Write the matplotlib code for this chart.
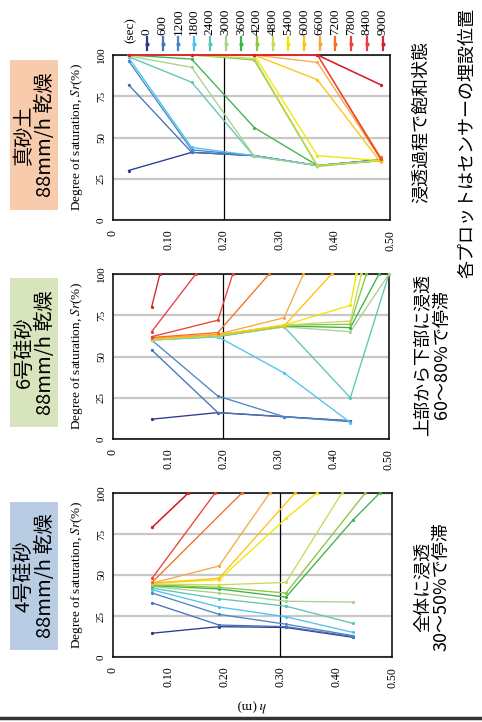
import matplotlib
matplotlib.use('Agg')
import matplotlib.pyplot as plt
from matplotlib.lines import Line2D
from matplotlib.patches import Rectangle

plt.rcParams['font.family'] = ['Liberation Serif', 'Noto Sans CJK JP']
plt.rcParams['mathtext.fontset'] = 'stix'

W, H = 482, 722
JP = ['Noto Sans CJK JP', 'DejaVu Sans']

times = [0, 600, 1200, 1800, 2400, 3000, 3600, 4200, 4800,
         5400, 6000, 6600, 7200, 7800, 8400, 9000]
colors = ['#2b3990', '#4a72b8', '#4c86c6', '#4fc3f0', '#5cc6b4', '#a9d18e',
          '#3bb34a', '#8cc63f', '#c7db5a', '#f2e600', '#ffc20e', '#f9a646',
          '#f37021', '#ef4136', '#ec3a4a', '#d2232a']

# 真砂土: センサー深さ h(m) と各時刻の飽和度 Sr(%)
masa_h = [0.028, 0.142, 0.255, 0.369, 0.483]
masa_sr = [
    [30, 41, 39, 33, 36.5],
    [82, 41, 39, 33, 36.5],
    [96.5, 42.5, 39, 33, 36.5],
    [98.5, 44, 39, 33, 36],
    [99, 83.5, 38.5, 33, 36],
    [99.5, 92.5, 38.5, 33, 36],
    [100, 97.5, 56, 33, 36],
    [100, 100, 97, 32.5, 36],
    [100, 100, 98, 33, 36],
    [100, 100, 100, 39, 36],
    [100, 100, 100, 85, 35],
    [100, 100, 100, 95.5, 37],
    [100, 100, 100, 100, 38],
    [100, 100, 100, 100, 37],
    [100, 100, 100, 100, 82],
    [100, 100, 100, 100, 82],
]
masa_front = [None] * 16

# 6号硅砂 (None: 飽和前線より下、前線で Sr=100)
s6_h = [0.07, 0.19, 0.31, 0.43]
s6_sr = [
    [12, 16, 13.5, 11],
    [54, 16, 13.5, 11],
    [60, 26, 13.5, 10.5],
    [60, 62, 40, 10],
    [60, 62, 68, 25],
    [60, 62.5, 68, 65],
    [60.5, 63, 68.5, 67.5],
    [60.5, 63, 69, 69.5],
    [60.5, 63, 69, 71.5],
    [60.5, 63, 69, 81],
    [61, 63, 68.5, None],
    [61, 63.5, 73.5, None],
    [61.5, 64.5, None, None],
    [62, 72, None, None],
    [65, None, None, None],
    [80, None, None, None],
]
s6_front = [None, None, None, None, 0.5, 0.5, 0.482, 0.459, 0.45, 0.441,
            0.396, 0.345, 0.283, 0.217, 0.15, 0.085]

# 4号硅砂
s4_h = [0.07, 0.19, 0.31, 0.43]
s4_sr = [
    [14.5, 18.5, 18, 12],
    [33, 19.5, 18.5, 12.5],
    [39, 26, 20, 13],
    [41, 30.5, 24.5, 15],
    [42, 35.5, 31, 20.5],
    [43, 39, 34, 33.5],
    [43.5, 41.5, 36.5, 83.5],
    [44, 42.5, 39, None],
    [44.5, 44, 45.5, None],
    [45, 47, 84.5, None],
    [45, 48, None, None],
    [45, 55.5, None, None],
    [45.5, None, None, None],
    [48, None, None, None],
    [79, None, None, None],
    [79, None, None, None],
]
s4_front = [None, None, None, None, None, None, 0.478, 0.452, 0.41, 0.365,
            0.326, 0.281, 0.231, 0.183, 0.135, 0.135]

fig = plt.figure(figsize=(W / 100, H / 100), dpi=100)


def fx(x):
    return x / W


def fy(y):
    return 1 - y / H


def draw_panel(box, depths, sr, front, vline, title, face, box_y):
    x0, y0, x1, y1 = box
    ax = fig.add_axes([fx(x0), fy(y1), (x1 - x0) / W, (y1 - y0) / H])
    for i in range(len(times)):
        hs = [d for d, v in zip(depths, sr[i]) if v is not None]
        vs = [v for v in sr[i] if v is not None]
        if front[i] is not None:
            hs.append(front[i])
            vs.append(100)
        ax.plot(hs, vs, '-o', color=colors[i], lw=0.95, ms=2.3, mew=0,
                clip_on=False, zorder=3)
    ax.axvline(vline, color='black', lw=0.9, zorder=2)
    ax.set_xlim(0, 0.5)
    ax.set_ylim(0, 100)
    ax.set_xticks([0, 0.1, 0.2, 0.3, 0.4, 0.5],
                  ['0', '0.10', '0.20', '0.30', '0.40', '0.50'],
                  rotation=90, fontsize=8.5)
    ax.set_yticks([0, 25, 50, 75, 100], ['0', '25', '50', '75', '100'],
                  rotation=90, va='center', fontsize=8)
    ax.tick_params(length=0)
    ax.tick_params(axis='x', pad=7)
    ax.tick_params(axis='y', pad=5)
    ax.grid(axis='y', color='#c8c8c8', lw=1.6, zorder=1)
    ax.set_axisbelow(True)
    for s in ax.spines.values():
        s.set_linewidth(1.1)
        s.set_color('black')
    ax.set_ylabel(r'Degree of saturation, $\mathit{Sr}$(%)', fontsize=9.5)
    ax.yaxis.set_label_coords(-0.10, 0.5)

    # 試料名のラベル
    by0, by1 = box_y
    fig.add_artist(Rectangle((fx(10), fy(by1)), 48 / W, (by1 - by0) / H,
                             transform=fig.transFigure, facecolor=face,
                             edgecolor='none'))
    fig.text(fx(35), fy((by0 + by1) / 2), title, rotation=90, ha='center',
             va='center', fontsize=14.5, family=JP, linespacing=1.05)
    return ax


draw_panel((113, 55, 390, 220), masa_h, masa_sr, masa_front, 0.20,
           '真砂土\n88mm/h 乾燥', '#f8cbad', (60, 210))
draw_panel((113, 274, 389, 439), s6_h, s6_sr, s6_front, 0.20,
           '6号硅砂\n88mm/h 乾燥', '#d8e4bc', (278, 427))
ax = draw_panel((113, 493, 392, 657), s4_h, s4_sr, s4_front, 0.30,
                '4号硅砂\n88mm/h 乾燥', '#b8cce4', (502, 650))

fig.text(fx(252), fy(705), '$\\mathit{h}$ (m)', rotation=180, ha='center',
         va='center', fontsize=9.5)

# 凡例 (経過時間)
fig.text(fx(131), fy(43), '(sec)', rotation=90, ha='center', va='bottom',
         fontsize=9.5)
for i, t in enumerate(times):
    x = fx(147 + i * 15.7)
    fig.text(x, fy(35), str(t), rotation=90, ha='center', va='bottom',
             fontsize=9.5)
    fig.add_artist(Line2D([x, x], [fy(37), fy(50)], transform=fig.transFigure,
                          color=colors[i], lw=1.6))
    fig.add_artist(Line2D([x], [fy(43.5)], transform=fig.transFigure,
                          color=colors[i], marker='o', ms=3, mew=0))

# 右側の説明
fig.text(fx(421), fy(122), '浸透過程で飽和状態', rotation=90, ha='center',
         va='center', fontsize=13, family=JP)
fig.text(fx(432), fy(355), '上部から下部に浸透\n60～80%で停滞', rotation=90,
         ha='center', va='center', fontsize=13, family=JP, linespacing=1.1)
fig.text(fx(432), fy(587), '全体に浸透\n30～50%で停滞', rotation=90,
         ha='center', va='center', fontsize=13, family=JP, linespacing=1.1)
fig.text(fx(467), fy(143), '各プロットはセンサーの埋設位置', rotation=90,
         ha='center', va='center', fontsize=13, family=JP)

fig.add_artist(Line2D([0, 1], [fy(718), fy(718)], transform=fig.transFigure,
                      color='#333333', lw=2.5))

fig.savefig('out.png', dpi=100)
